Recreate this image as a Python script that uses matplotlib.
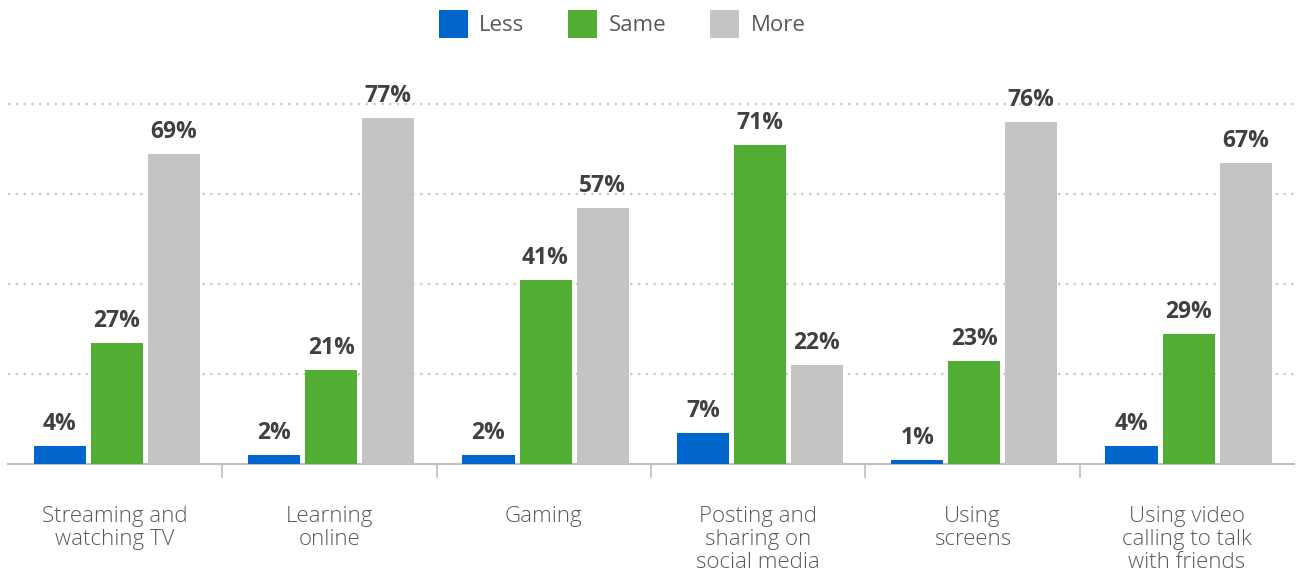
import numpy as np
import matplotlib.pyplot as plt
from matplotlib.patches import Patch

categories = ["Streaming and\nwatching TV", "Learning\nonline", "Gaming",
              "Posting and\nsharing on\nsocial media", "Using\nscreens",
              "Using video\ncalling to talk\nwith friends"]
less = [4, 2, 2, 7, 1, 4]
same = [27, 21, 41, 71, 23, 29]
more = [69, 77, 57, 22, 76, 67]

series = [("Less", less, "#0066CC"), ("Same", same, "#52AE32"), ("More", more, "#C4C4C4")]

plt.rcParams['font.family'] = ['Open Sans', 'DejaVu Sans']

fig = plt.figure(figsize=(12.98, 5.73), dpi=100)
ax = fig.add_axes([8 / 1298, 1 - 464 / 573, 1286 / 1298, 405 / 573])

x = np.arange(len(categories))
width = 0.243
step = 0.266

for i, (name, vals, color) in enumerate(series):
    pos = x + (i - 1) * step + 0.008
    bars = ax.bar(pos, vals, width=width, color=color, label=name, zorder=3)
    for b, v in zip(bars, vals):
        ax.annotate(f"{v}%", (b.get_x() + b.get_width() / 2, v),
                    xytext=(0, 7), textcoords="offset points",
                    ha="center", va="bottom", fontsize=16.5, fontweight="bold",
                    color="#404040")

ax.set_xlim(-0.5, len(categories) - 0.5)
ax.set_ylim(0, 90)

# dotted horizontal guides
for yv in [20, 40, 60, 80]:
    ax.axhline(yv, color="#C8C8C8", linestyle=(0, (1, 2.5)), linewidth=1.6, zorder=1)

for s in ["top", "right", "left"]:
    ax.spines[s].set_visible(False)
ax.spines["bottom"].set_color("#BFBFBF")
ax.spines["bottom"].set_linewidth(1.5)
ax.set_yticks([])

# separators between groups
ax.set_xticks(x[:-1] + 0.5, minor=True)
ax.tick_params(axis="x", which="minor", length=10, width=1.2, color="#BFBFBF")
ax.set_xticks(x)
ax.set_xticklabels(categories, fontsize=16, color="#595959", fontweight="light",
                   linespacing=1.15, va="top")
ax.tick_params(axis="x", which="major", length=0, pad=30)

handles = [Patch(facecolor=c, label=n) for n, _, c in series]
fig.legend(handles=handles, loc="center", bbox_to_anchor=(622 / 1298, 1 - 24 / 573),
           ncol=3, frameon=False, fontsize=16, handlelength=1.3, handleheight=1.55,
           handletextpad=0.5, columnspacing=2.0, labelcolor="#595959")

fig.savefig("out.png", dpi=100)
